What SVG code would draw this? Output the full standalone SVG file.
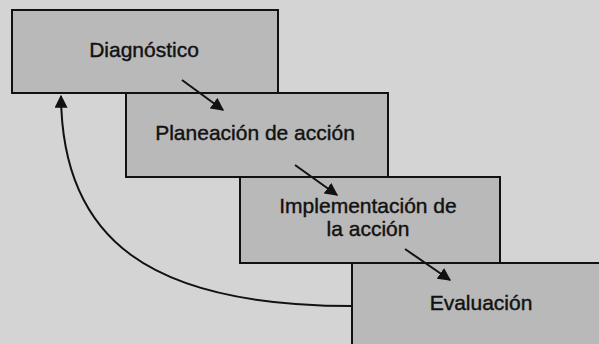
<svg xmlns="http://www.w3.org/2000/svg" width="599" height="344" viewBox="0 0 599 344">
<style>
.box{fill:#b9b9b9;stroke:#111;stroke-width:2}
.lbl{font-family:"Liberation Sans",Arial,sans-serif;font-size:21px;fill:#111;stroke:#111;stroke-width:0.4;text-anchor:middle}
.conn{fill:none;stroke:#111;stroke-width:2}
</style>
<defs>
<marker id="ahb" viewBox="0 0 10 10" refX="9" refY="5" markerWidth="13" markerHeight="13" markerUnits="userSpaceOnUse" orient="auto">
<path d="M0,0 L10,5 L0,10 Z" fill="#111"/>
</marker>
</defs>
<rect width="599" height="344" fill="#d4d4d4"/>
<g id="n-diagnostico">
<rect class="box" x="12" y="10" width="266" height="83"/>
<text class="lbl" x="144" y="57">Diagnóstico</text>
</g>
<g id="n-planeacion">
<rect class="box" x="126" y="93" width="262" height="84"/>
<text class="lbl" x="255" y="140">Planeación de acción</text>
</g>
<g id="n-implementacion">
<rect class="box" x="240" y="177" width="260" height="86"/>
<text class="lbl" x="368" y="213">Implementación de</text>
<text class="lbl" x="368" y="236">la acción</text>
</g>
<g id="n-evaluacion">
<rect class="box" x="352" y="263" width="260" height="100"/>
<text class="lbl" x="481" y="310">Evaluación</text>
</g>
<g id="connectors">
<path class="conn" d="M182,80 L223,110" marker-end="url(#ahb)"/>
<path class="conn" d="M295,165 L337,195" marker-end="url(#ahb)"/>
<path class="conn" d="M405,249 L450,280" marker-end="url(#ahb)"/>
<path class="conn" d="M352,306 C150,306 62,240 61,96" marker-end="url(#ahb)"/>
</g>
</svg>
